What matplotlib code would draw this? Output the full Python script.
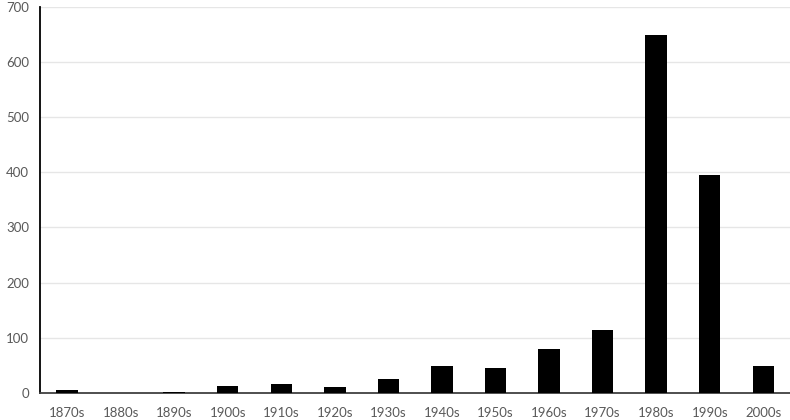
import numpy as np
import matplotlib.pyplot as plt

decades = ["1870s", "1880s", "1890s", "1900s", "1910s", "1920s", "1930s",
           "1940s", "1950s", "1960s", "1970s", "1980s", "1990s", "2000s"]
counts = [4, 0, 2, 13, 15, 10, 25, 49, 44, 79, 114, 649, 396, 49]

plt.rcParams['font.family'] = ['Lato', 'DejaVu Sans']

fig = plt.figure(figsize=(7.9, 4.2), dpi=100)
ax = fig.add_axes([0.051, 0.065, 0.949, 0.918])

x = np.arange(len(decades))
ax.bar(x, counts, width=0.4, color="black", zorder=3)

ax.set_xlim(-0.5, len(decades) - 0.5)
ax.set_ylim(0, 700)
ax.set_yticks(range(0, 701, 100))
ax.set_xticks(x)
ax.set_xticklabels(decades)
ax.yaxis.grid(True, color="#e6e6e6", linewidth=1, zorder=0)

for s in ["top", "right"]:
    ax.spines[s].set_visible(False)
ax.spines["left"].set_color("black")
ax.spines["left"].set_linewidth(1.3)
ax.spines["bottom"].set_color("#404040")
ax.spines["bottom"].set_linewidth(1.3)
ax.tick_params(length=0, labelsize=9.5, labelcolor="#595959")
ax.tick_params(axis="x", pad=10)
ax.tick_params(axis="y", pad=8)

fig.savefig("out.png", dpi=100)
